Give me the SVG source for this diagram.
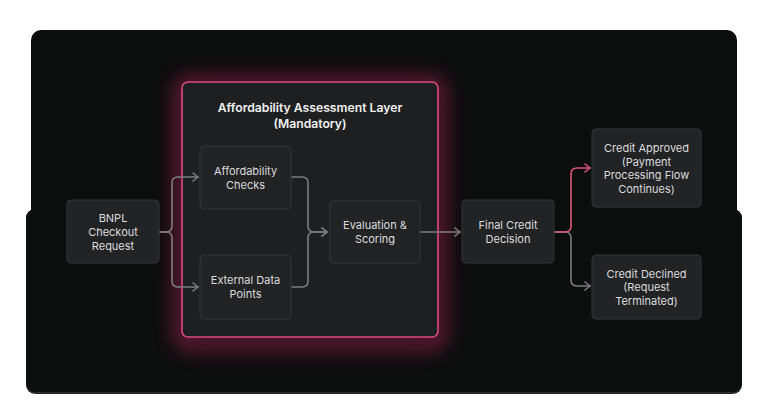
<svg xmlns="http://www.w3.org/2000/svg" width="768" height="419" viewBox="0 0 768 419">
  <defs>
    <style>
      .node rect { fill: #222325; stroke: #35363a; stroke-width: 1; }
      .node text { fill: #dcdcde; font-family: Inter, "Liberation Sans", sans-serif; font-size: 11px; text-anchor: middle; }
      .title { fill: #f2f2f2; font-family: Inter, "Liberation Sans", sans-serif; font-size: 12.2px; font-weight: 600; text-anchor: middle; }
      .conn { fill: none; stroke: #7d7d80; stroke-width: 1.6; stroke-linecap: round; stroke-linejoin: round; }
      .conn.pink { stroke: #d9577f; }
    </style>
    <marker id="arr" viewBox="0 0 10 10" refX="9" refY="5" markerWidth="10" markerHeight="10" markerUnits="userSpaceOnUse" orient="auto">
      <polyline points="4,1 9,5 4,9" fill="none" stroke="#7d7d80" stroke-width="1.6" stroke-linecap="round" stroke-linejoin="round"/>
    </marker>
    <marker id="arrPink" viewBox="0 0 10 10" refX="9" refY="5" markerWidth="10" markerHeight="10" markerUnits="userSpaceOnUse" orient="auto">
      <polyline points="4,1 9,5 4,9" fill="none" stroke="#d9577f" stroke-width="1.6" stroke-linecap="round" stroke-linejoin="round"/>
    </marker>
    <filter id="glow" x="-30%" y="-30%" width="160%" height="160%">
      <feGaussianBlur stdDeviation="10"/>
    </filter>
  </defs>

  <rect x="0" y="0" width="768" height="419" fill="#ffffff"/>
  <!-- background panel -->
  <rect x="26" y="209" width="716" height="185" rx="9" fill="#2a2b2c"/>
  <rect x="26" y="209" width="716" height="183" rx="9" fill="#0d0e0e"/>
  <rect x="31" y="30" width="706" height="250" rx="10" fill="#0c0d0d"/>

  <!-- layer glow -->
  <rect x="182" y="84" width="256" height="258" rx="6" fill="none" stroke="#a3204f" stroke-width="14" opacity="0.7" filter="url(#glow)"/>

  <g id="layer">
    <rect x="182" y="82" width="256" height="255" rx="6" fill="#1e1f21" stroke="#dc4b7f" stroke-width="1.6"/>
    <text class="title" x="310" y="112">Affordability Assessment Layer</text>
    <text class="title" x="310" y="128">(Mandatory)</text>
  </g>

  <g id="connectors">
    <path class="conn" d="M159,232 H166 Q172,232 172,226 V183 Q172,177 178,177 H198" marker-end="url(#arr)"/>
    <path class="conn" d="M159,232 H166 Q172,232 172,238 V281 Q172,287 178,287 H198" marker-end="url(#arr)"/>
    <path class="conn" d="M291,177 H302 Q308,177 308,183 V226 Q308,232 314,232 H327" marker-end="url(#arr)"/>
    <path class="conn" d="M291,287 H302 Q308,287 308,281 V238 Q308,232 314,232 H327" marker-end="url(#arr)"/>
    <path class="conn" d="M420,232 H460" marker-end="url(#arr)"/>
    <path class="conn" d="M554,232 H565 Q571,232 571,238 V280 Q571,286 577,286 H590" marker-end="url(#arr)"/>
    <path class="conn pink" d="M554,232 H565 Q571,232 571,226 V174 Q571,168 577,168 H590" marker-end="url(#arrPink)"/>
  </g>

  <g id="bnpl" class="node">
    <rect x="67" y="200" width="92" height="63" rx="4"/>
    <text x="113" y="222">BNPL</text>
    <text x="113" y="236">Checkout</text>
    <text x="113" y="250">Request</text>
  </g>
  <g id="afford" class="node">
    <rect x="200" y="146" width="91" height="63" rx="4"/>
    <text x="245.5" y="175">Affordability</text>
    <text x="245.5" y="189">Checks</text>
  </g>
  <g id="external" class="node">
    <rect x="200" y="255" width="91" height="64" rx="4"/>
    <text x="245.5" y="284">External Data</text>
    <text x="245.5" y="298">Points</text>
  </g>
  <g id="eval" class="node">
    <rect x="330" y="201" width="90" height="62" rx="4"/>
    <text x="375" y="229">Evaluation &amp;</text>
    <text x="375" y="243">Scoring</text>
  </g>
  <g id="final" class="node">
    <rect x="462" y="200" width="92" height="63" rx="4"/>
    <text x="508" y="229">Final Credit</text>
    <text x="508" y="243">Decision</text>
  </g>
  <g id="approved" class="node">
    <rect x="592" y="129" width="109" height="78" rx="4"/>
    <text x="646.5" y="152">Credit Approved</text>
    <text x="646.5" y="166">(Payment</text>
    <text x="646.5" y="179">Processing Flow</text>
    <text x="646.5" y="193">Continues)</text>
  </g>
  <g id="declined" class="node">
    <rect x="592" y="255" width="109" height="64" rx="4"/>
    <text x="646.5" y="278">Credit Declined</text>
    <text x="646.5" y="291">(Request</text>
    <text x="646.5" y="305">Terminated)</text>
  </g>
</svg>
